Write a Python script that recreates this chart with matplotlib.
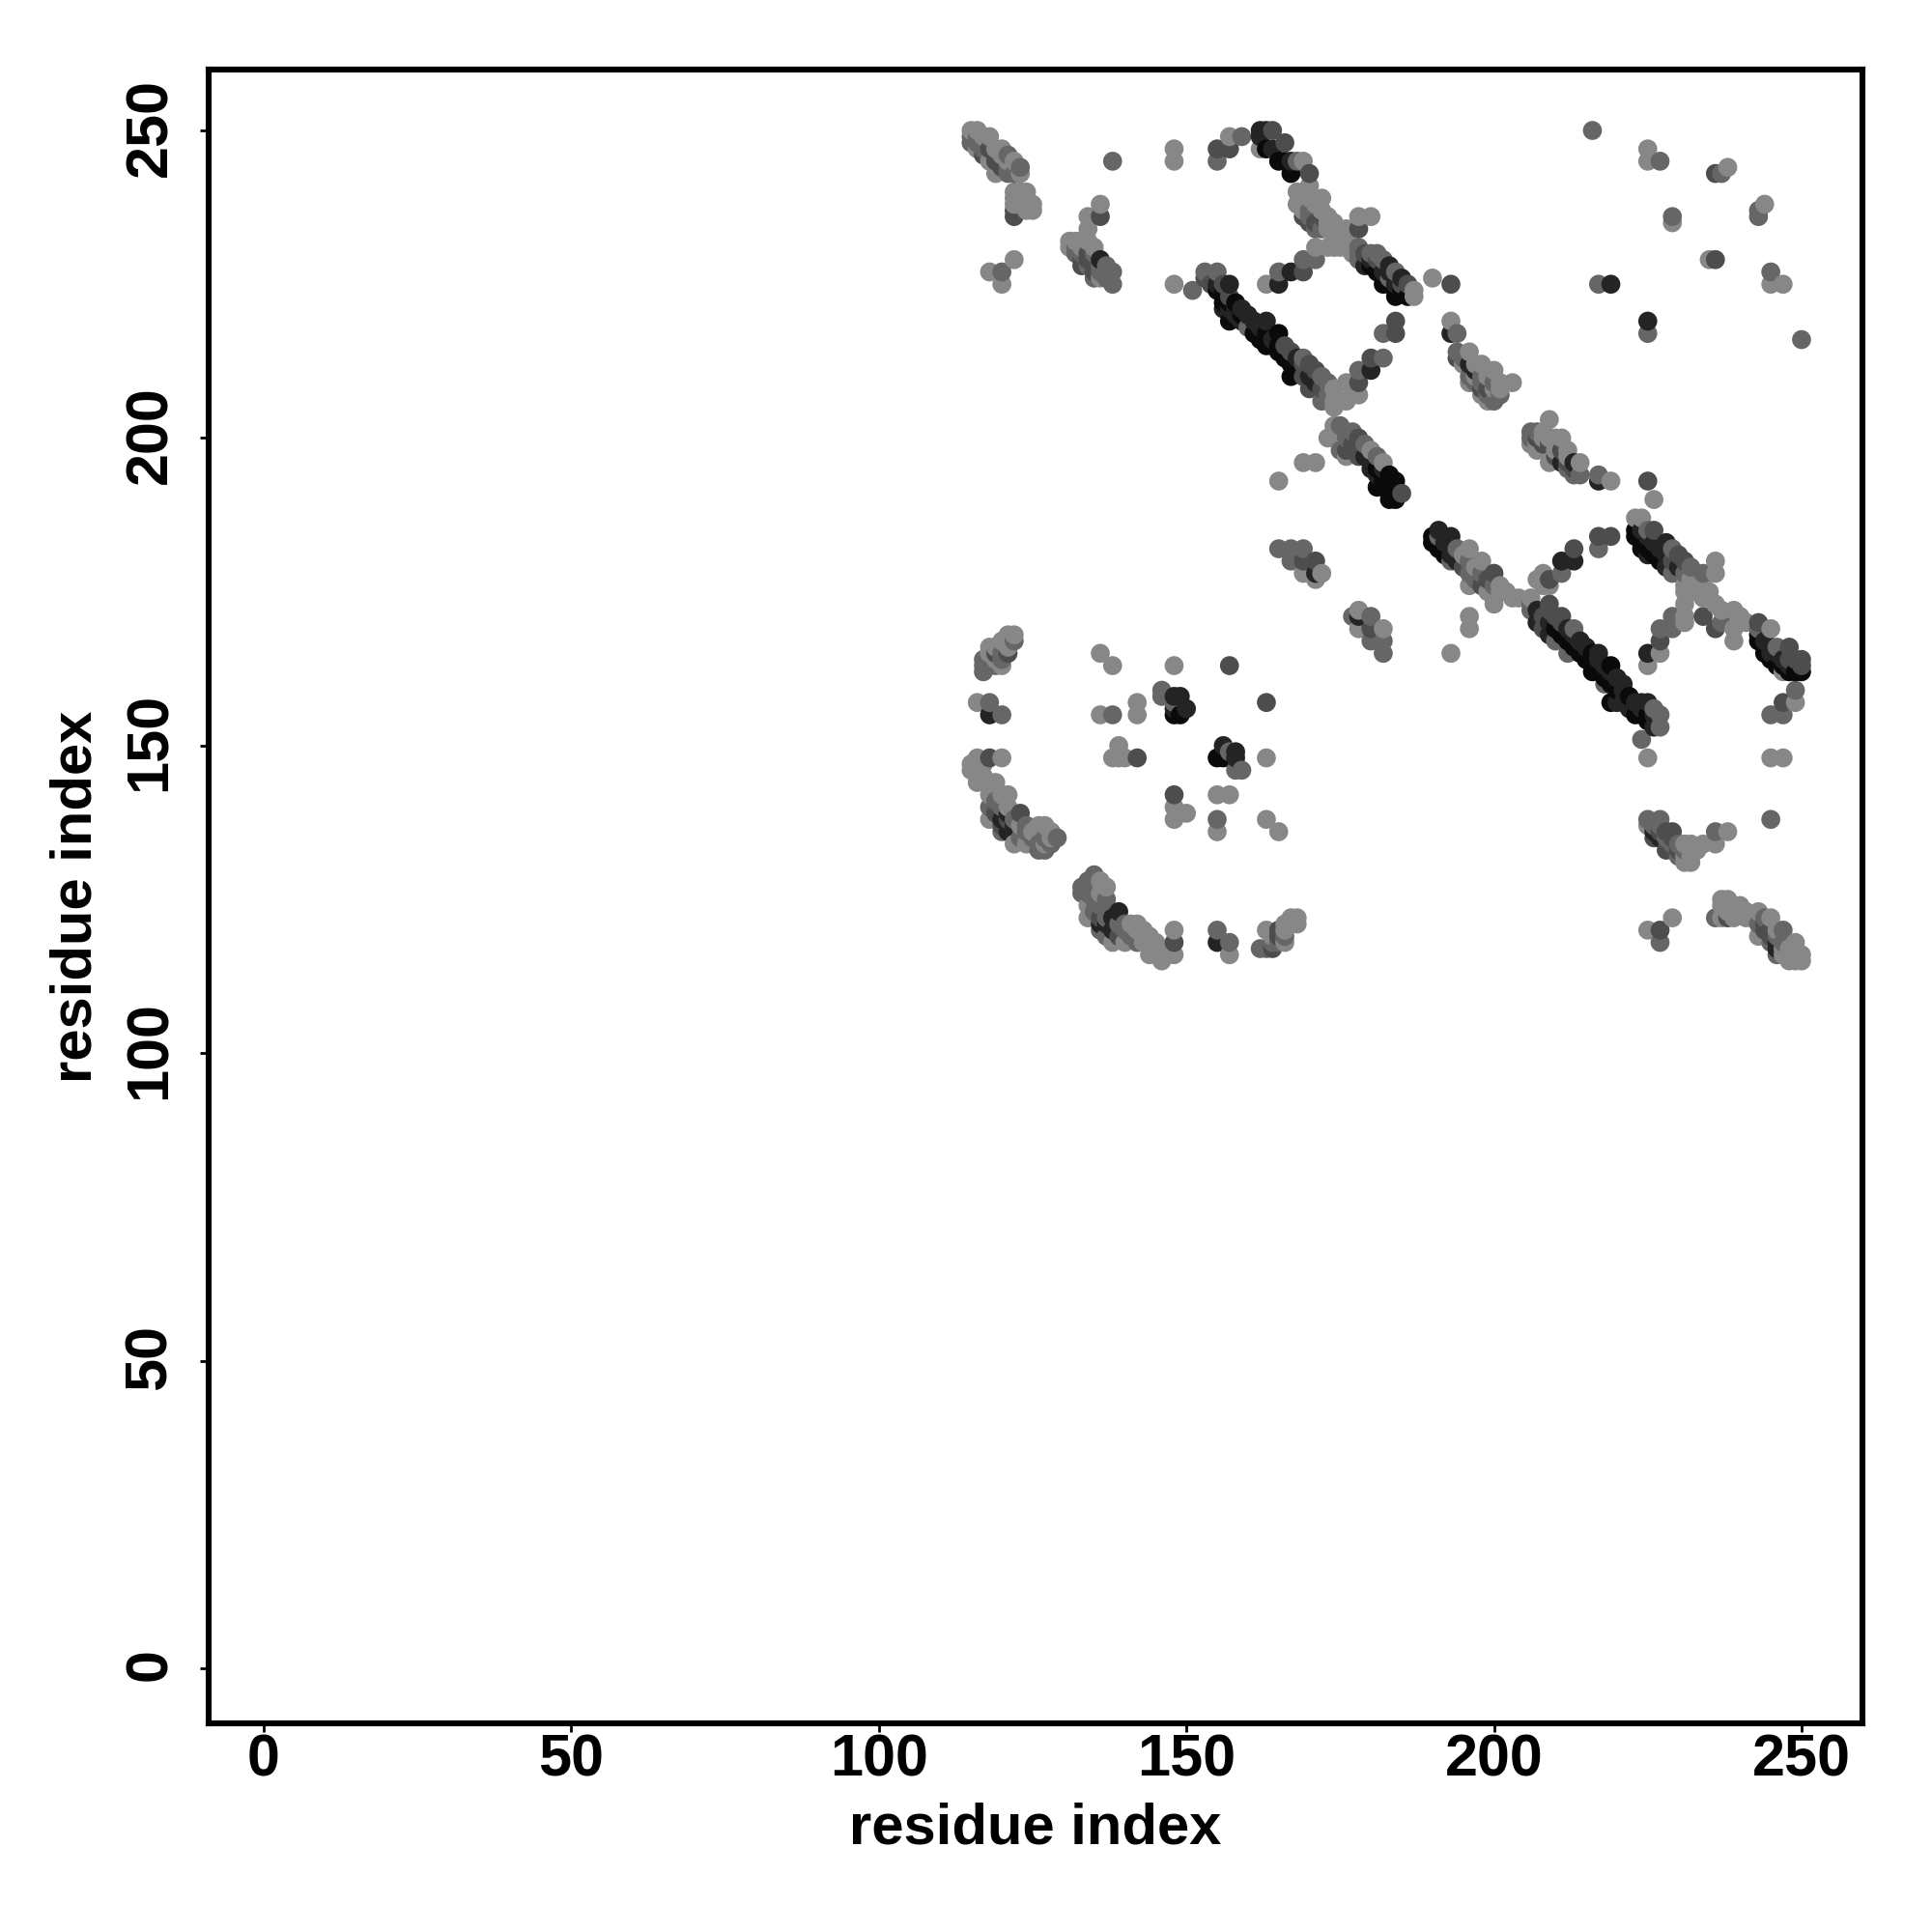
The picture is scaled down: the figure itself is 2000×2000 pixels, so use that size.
import numpy as np
import matplotlib
matplotlib.use("Agg")
import matplotlib.pyplot as plt
from matplotlib.transforms import ScaledTranslation

plt.rcParams["font.family"] = ["Liberation Sans", "DejaVu Sans"]
plt.rcParams["font.weight"] = "bold"

tick_values = [0, 50, 100, 150, 200, 250]

# residue pairs, one list for each grey level
light = [
    (115,250),(116,250),(118,249),(116,247),(119,247),(120,247),(122,245),(123,243),(118,245),(119,243),
    (122,240),(123,240),(124,240),(122,239),(123,239),(122,238),(124,238),(125,238),(124,237),(125,237),
    (122,229),(118,227),(120,225),(136,238),(134,236),(134,234),(131,232),(132,232),(134,232),(131,231),
    (136,226),(148,247),(148,245),(157,249),(148,225),(162,247),(169,245),(170,241),(168,238),(170,239),
    (172,239),(169,237),(173,236),(173,235),(174,234),(176,234),(178,236),(180,236),(171,231),(173,231),
    (175,231),(176,231),(187,224),(187,223),(190,226),(163,225),(176,209),(177,207),(178,207),(176,206),
    (174,206),(174,205),(174,202),(174,201),(173,200),(176,197),(180,198),(182,196),(169,196),(171,196),
    (165,193),(169,178),(172,178),(171,177),(178,172),(178,169),(182,169),(196,171),(196,169),(193,165),
    (163,148),(196,182),(198,180),(196,176),(201,176),(200,173),(202,175),(204,174),(206,174),(207,177),
    (208,178),(208,176),(209,176),(223,187),(224,187),(225,148),(225,163),(227,165),(231,170),(231,176),
    (234,176),(231,175),(233,175),(235,175),(234,174),(231,173),(236,173),(231,171),(236,180),(236,178),
    (237,172),(239,172),(239,169),(241,170),(239,167),(245,169),(247,162),(249,157),(245,148),(247,148),
    (225,137),(232,134),(234,134),(236,134),(238,136),(232,132),(231,131),(232,131),(225,120),(229,122),
    (237,125),(238,125),(237,124),(240,124),(237,122),(239,122),(241,122),(243,123),(245,122),(243,119),
    (249,118),(247,116),(249,116),(250,116),(248,115),(249,115),(250,115),(122,168),(121,168),(120,167),
    (118,166),(118,165),(120,163),(119,164),(136,165),(138,163),(148,163),(116,157),(136,155),(142,157),
    (142,155),(116,148),(120,148),(115,146),(116,146),(116,144),(118,144),(119,144),(118,142),(120,142),
    (121,142),(121,140),(118,138),(127,137),(126,137),(128,136),(122,134),(124,134),(139,150),(138,148),
    (139,148),(140,148),(148,140),(148,138),(150,139),(155,142),(157,142),(155,136),(163,138),
    (165,136),(136,128),(137,127),(134,124),(134,122),(142,121),(141,121),(144,119),(148,120),(138,118),
    (140,118),(144,116),(146,117),(146,115),(148,116),(157,116),(163,120),(166,118),(167,121),(168,122),
    (167,122),(168,121),(225,247),(225,245),(238,244),(229,235),(244,238),(235,229),(245,225),(247,225),
    (193,219),(196,214),(198,212),(196,209),(200,211),(203,209),(201,209),(198,207),(199,206),(209,203),
    (206,199),(208,201),(209,200),(211,200),(207,198),(209,196),(212,198),(214,196),(219,193),(226,190),
    (174,208),(195,181),(197,179),(199,175),(200,174),(201,175),(203,174),(232,177),(240,171),(120,246),
    (117,249),(121,245),(133,232),(133,231),(135,231),(171,238),(172,237),(173,234),(174,233),(175,233),
    (175,232),(174,231),(176,232),(177,231),(177,230),(174,235),(168,240),(195,212),(197,212),(199,210),
    (200,208),(201,208),(197,210),(208,200),(210,198),(210,200),(210,199),(212,197),(207,199),(123,137),
    (125,136),(128,135),(125,134),(127,134),(136,126),(142,120),(143,120),(143,118),(145,117),(145,118),
    (144,118),(147,116),(164,119),(166,120),(166,121),(119,166),(121,166),(117,147),(117,145),(115,147),
    (116,145),(231,132),(231,134),(233,133),(239,124),(238,123),(239,123),(241,123),(246,120),(247,117),
    (248,117),(248,116),
]
medium = [
    (117,248),(115,248),(115,249),(121,244),(138,245),(155,245),(159,249),(132,230),(133,230),
    (134,228),(138,227),(138,225),(135,226),(151,224),(153,227),(155,227),(160,218),(169,213),(173,209),
    (172,206),(182,213),(182,217),(178,211),(176,201),(175,198),(168,245),(170,236),(171,234),(178,231),
    (178,229),(180,230),(181,230),(169,229),(171,229),(165,227),(183,226),(165,182),(167,182),(169,182),
    (167,180),(177,171),(180,171),(180,167),(182,167),(182,165),(191,184),(194,217),(194,214),(200,209),
    (196,210),(198,210),(201,207),(200,206),(207,201),(206,200),(214,194),(213,194),(217,194),(217,182),
    (197,178),(193,180),(206,172),(211,178),(210,167),(213,169),(212,165),(218,160),(227,155),(227,153),
    (224,151),(225,185),(229,178),(231,178),(234,178),(227,169),(229,169),(229,171),(237,170),
    (243,169),(246,166),(247,155),(245,155),(249,159),(245,138),(225,138),(227,138),(227,137),(228,135),
    (230,134),(236,136),(230,132),(227,118),(236,122),(243,121),(247,120),(245,118),(247,118),(122,167),
    (120,165),(117,164),(117,163),(117,162),(118,157),(120,155),(138,155),(146,159),(146,158),(148,157),
    (118,140),(122,138),(120,136),(124,137),(129,135),(126,133),(127,133),(128,134),(157,149),(158,146),
    (159,146),(155,138),(135,129),(134,128),(133,127),(133,126),(134,126),(137,125),(136,124),(137,122),
    (136,120),(140,121),(142,119),(142,118),(155,120),(157,118),(162,117),(163,117),(166,119),(216,250),
    (227,245),(237,243),(229,236),(243,236),(243,237),(245,227),(217,225),(225,217),(250,216),(120,227),
    (173,207),(172,210),(175,202),(176,200),(177,201),(179,199),(181,197),(194,182),(196,180),(196,178),
    (197,177),(198,178),(200,176),(206,173),(226,156),(229,182),(232,179),(178,230),(182,229),(184,227),
    (121,246),(116,249),(116,248),(117,247),(121,243),(122,243),(123,244),(132,231),(135,230),(136,227),
    (136,228),(137,226),(137,228),(170,237),(172,234),(195,213),(197,209),(198,209),(199,207),(206,201),
    (212,195),(119,141),(120,140),(123,135),(124,136),(125,135),(126,134),(127,135),(135,127),(135,125),
    (135,123),(136,125),(137,123),(137,119),(139,121),(140,120),(141,119),(164,118),(165,118),(119,163),
    (118,164),(120,164),(118,163),(226,137),(229,134),(231,133),(244,122),(246,119),(246,116),
]
dark = [
    (119,245),(117,246),(122,237),(122,236),(136,236),(133,228),(135,228),(155,247),(157,247),(153,226),
    (156,225),(157,223),(164,250),(166,248),(170,243),(169,236),(178,234),(169,227),(167,214),(171,211),
    (169,210),(170,208),(178,209),(180,213),(184,219),(184,217),(178,200),(176,198),(178,197),(185,191),
    (169,180),(171,180),(180,169),(157,163),(163,157),(193,225),(194,213),(198,208),(208,199),(211,198),
    (198,176),(200,178),(209,173),(209,177),(208,169),(211,171),(214,167),(213,182),(217,184),(219,184),
    (226,185),(230,181),(236,169),(234,171),(227,167),(243,170),(248,166),(250,164),(247,157),(229,136),
    (226,135),(228,133),(227,120),(238,122),(245,119),(119,165),(118,148),(142,148),(123,139),
    (148,142),(136,122),(148,118),(165,120),(164,117),(236,229),(236,243),(225,193),
    (154,225),(166,215),(169,212),(170,212),(172,208),(177,199),(178,198),(195,179),(199,177),(208,171),
    (209,172),(210,171),(211,170),(229,180),(231,180),(248,164),(249,164),(250,163),(181,229),(179,230),
    (185,225),(186,225),(119,246),(120,244),(118,247),(133,229),(134,230),(134,229),(135,227),(171,235),
    (170,235),(172,236),(197,211),(199,208),(207,200),(209,199),(210,197),(212,196),(213,195),(119,139),
    (121,138),(120,137),(139,119),(165,119),(121,165),(227,136),(228,136),(229,133),(229,135),(230,133),
    (244,120),(244,121),(245,120),
]
near_black = [
    (162,250),(163,250),(162,249),(164,247),(167,245),(183,228),(185,226),(167,227),(165,225),
    (136,229),(157,225),(157,221),(158,221),(159,221),(156,221),(159,219),(163,219),(180,211),(213,180),
    (211,180),(180,195),(193,184),(193,182),(191,185),(196,212),(193,217),(211,196),(213,196),
    (217,193),(171,178),(178,171),(217,165),(215,164),(221,160),(221,157),(224,157),(225,157),(228,183),
    (226,136),(225,165),(148,158),(149,158),(148,156),(150,156),(118,155),(120,138),(121,136),(156,150),
    (158,149),(158,148),(139,123),(138,120),(136,121),(155,118),(219,225),(225,219),(246,117),(245,165),
    (155,225),(158,220),(160,220),(161,219),(162,218),(164,216),(168,213),(170,210),(171,209),(179,197),
    (180,196),(181,194),(182,195),(192,183),(193,181),(194,180),(207,172),(207,170),(209,170),(209,168),
    (212,169),(213,168),(214,167),(215,166),(217,164),(218,163),(219,162),(220,161),(220,157),(221,159),
    (222,156),(223,157),(224,156),(226,155),(226,153),(224,185),(225,184),(225,181),(226,183),(227,182),
    (228,181),(228,179),(230,179),(244,167),(245,166),(246,165),(247,164),(248,163),(182,227),(183,227),
    (184,225),(179,228),(180,229),(121,139),(122,137),(197,211),(137,121),(138,122),(227,135),(246,118),
]
black = [
    (163,247),(165,245),(166,245),(167,243),(155,224),(156,222),(157,219),(162,216),(165,217),(164,215),
    (165,214),(167,210),(180,228),(182,225),(184,223),(182,194),(184,193),(181,192),(183,190),(183,191),
    (190,184),(190,183),(192,181),(214,165),(219,163),(216,162),(219,157),(224,155),(223,185),
    (223,184),(225,182),(227,180),(243,168),(243,167),(245,164),(249,162),(250,162),(148,155),(149,155),
    (155,148),(156,148),(156,224),(157,222),(158,222),(159,220),(161,217),(163,217),(163,215),(165,215),
    (166,213),(167,212),(168,211),(181,195),(182,193),(183,194),(183,192),(184,192),(184,190),(191,183),
    (191,182),(210,169),(211,168),(212,167),(213,166),(215,164),(216,165),(216,163),(217,162),(218,161),
    (219,160),(220,159),(222,158),(223,155),(225,155),(225,154),(224,183),(224,182),(226,181),(244,165),
    (246,163),(247,163),(248,162),(181,227),(183,225),(185,224),(186,223),
]
grey_levels = [0.53, 0.40, 0.30, 0.14, 0.04]

groups = [light, medium, dark, near_black, black]
xs = np.concatenate([[p[0] for p in g] for g in groups])
ys = np.concatenate([[p[1] for p in g] for g in groups])
greys = np.concatenate([[lev] * len(g) for g, lev in zip(groups, grey_levels)])
# points lie on top of each other, later residues are drawn last
order = np.lexsort((ys, xs))

fig = plt.figure(figsize=(10, 10), dpi=200)
ax = fig.add_axes([216 / 2000, 1 - 1784 / 2000, 1712 / 2000, 1712 / 2000])
ax.scatter(xs[order], ys[order], s=50, c=[str(g) for g in greys[order]], linewidths=0)

ax.set_xlim(-8.95, 259.9)
ax.set_ylim(-8.95, 259.9)
ax.set_xticks(tick_values)
ax.set_yticks(tick_values)
ax.tick_params(length=3.2, width=1.0, labelsize=22)
ax.tick_params(axis="x", pad=0.5)
ax.tick_params(axis="y", pad=8)
nudge = ScaledTranslation(0, 3.5 / 200, fig.dpi_scale_trans)
for label in ax.get_yticklabels():
    label.set_rotation(90)
    label.set_va("center")
    label.set_transform(label.get_transform() + nudge)
for side in ax.spines.values():
    side.set_linewidth(2.2)
    side.set_capstyle("projecting")

ax.set_xlabel("residue index", fontsize=21.5, fontweight="bold", va="center")
ax.set_ylabel("residue index", fontsize=21.5, fontweight="bold", va="center")
ax.xaxis.set_label_coords(0.5, -0.0637)
ax.yaxis.set_label_coords(-0.080, 0.5)

fig.savefig("out.png", dpi=200)
